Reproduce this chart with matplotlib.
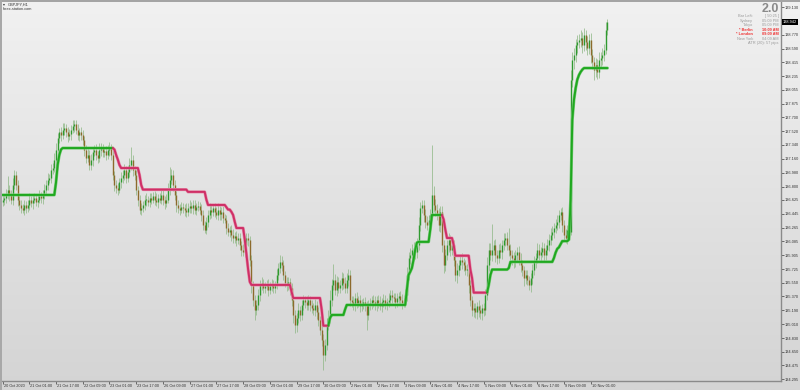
import numpy as np
import matplotlib
matplotlib.use("Agg")
import matplotlib.pyplot as plt
from matplotlib.transforms import blended_transform_factory
from matplotlib.patches import Rectangle

plt.rcParams["font.family"] = ["Liberation Sans", "DejaVu Sans"]

# ---------------- data ----------------
symbol = "GBPJPY,H1"
source = "forex-station.com"
first_open = 136.60

closes = [
    136.63, 136.65, 136.69, 136.76, 136.69, 136.63, 136.82, 136.95, 136.82, 136.63,
    136.56, 136.52, 136.50, 136.56, 136.52, 136.56, 136.63, 136.59, 136.63, 136.65,
    136.60, 136.63, 136.68, 136.65, 136.69, 136.76, 136.82, 136.89, 136.91, 137.02,
    137.04, 137.15, 137.28, 137.43, 137.51, 137.47, 137.54, 137.56, 137.51, 137.46,
    137.48, 137.54, 137.59, 137.61, 137.54, 137.47, 137.51, 137.47, 137.41, 137.28,
    137.17, 137.21, 137.08, 137.15, 137.25, 137.28, 137.21, 137.17, 137.28, 137.30,
    137.25, 137.26, 137.21, 137.28, 137.30, 137.21, 136.95, 136.82, 136.78, 136.76,
    136.86, 136.91, 136.95, 137.02, 136.91, 136.99, 137.08, 137.15, 137.02, 136.95,
    136.76, 136.63, 136.50, 136.52, 136.56, 136.63, 136.63, 136.60, 136.65, 136.63,
    136.68, 136.63, 136.60, 136.65, 136.63, 136.69, 136.63,
    136.59, 136.63, 136.76, 136.89, 136.95, 136.82, 136.69, 136.56,
    136.52, 136.50, 136.53, 136.52, 136.50, 136.47, 136.52, 136.55, 136.52,
    136.56, 136.50, 136.53, 136.55, 136.50, 136.43, 136.30, 136.24, 136.34, 136.43,
    136.50, 136.47, 136.52, 136.47, 136.43, 136.50, 136.44, 136.47, 136.39, 136.37,
    136.26, 136.21, 136.24, 136.17, 136.13, 136.16, 136.11, 136.13, 136.04,
    135.98, 135.95, 136.04, 136.13, 136.11, 135.85, 135.52, 135.33, 135.20,
    135.26, 135.39, 135.52, 135.55, 135.48, 135.50, 135.52, 135.46, 135.51, 135.53,
    135.48, 135.52, 135.65, 135.74, 135.82, 135.78, 135.65, 135.55, 135.52,
    135.56, 135.48, 135.33, 135.13, 135.00, 135.09, 135.20, 135.13,
    135.26, 135.33, 135.30, 135.26, 135.33, 135.26, 135.22, 135.20, 135.26, 135.17,
    135.07, 134.94, 134.81, 134.61, 134.74, 135.00, 135.09,
    135.33, 135.52, 135.59, 135.46, 135.56, 135.48, 135.52, 135.61, 135.55, 135.48,
    135.59, 135.65, 135.33, 135.30, 135.26, 135.35, 135.29, 135.33, 135.25, 135.27,
    135.30, 135.26, 135.13, 135.26, 135.29, 135.33, 135.30, 135.26, 135.33, 135.29,
    135.25, 135.30, 135.33, 135.27, 135.30, 135.33, 135.39, 135.36, 135.35, 135.30,
    135.35, 135.38, 135.33, 135.29, 135.30, 135.39, 135.65, 135.87, 135.91,
    135.98, 136.00, 135.95, 136.04, 136.30, 136.52, 136.56, 136.43, 136.34, 136.30,
    136.37, 136.43, 136.69, 136.56, 136.50, 136.43, 136.30, 136.47, 136.04, 135.78,
    135.91, 136.04, 136.11, 135.98, 136.04, 135.85, 135.65, 135.72, 135.78,
    135.85, 135.82, 135.78, 135.72, 135.72, 135.52, 135.33,
    135.20, 135.22, 135.17, 135.25, 135.20, 135.16, 135.22, 135.20, 135.39,
    135.78, 135.98, 135.91, 135.98, 136.04, 135.91, 135.87, 135.98, 135.95, 136.04,
    136.11, 136.13, 136.04, 135.98, 135.91, 135.87, 135.82, 135.91, 135.95,
    135.85, 135.78, 135.72, 135.61, 135.65, 135.59, 135.52, 135.61, 135.72,
    135.82, 135.87, 135.98, 135.91, 135.95, 136.00, 135.91, 135.98,
    136.04, 136.11, 136.17, 136.21, 136.26, 136.30, 136.34, 136.43, 136.47,
    136.30, 136.17, 136.13, 136.24, 136.21, 138.19, 138.45, 138.51, 138.64,
    138.68, 138.71, 138.73, 138.64, 138.77, 138.68, 138.60, 138.71,
    138.51, 138.42, 138.32, 138.38, 138.29, 138.45, 138.47, 138.51, 138.58,
    138.84, 138.942,
]

up_wick_pips = [
    6, 5, 8, 18, 6, 7, 9, 7, 5, 6, 4, 6, 5, 7, 5, 6, 8, 5, 6, 7,
    5, 6, 8, 5, 6, 7, 6, 8, 5, 7, 6, 8, 9, 7, 5, 6, 8, 7, 5, 6,
    7, 6, 8, 5, 6, 7, 5, 6, 7, 5, 6, 8, 6, 7, 5, 6, 7, 5, 8, 6,
    5, 6, 7, 6, 8, 5, 6, 5, 7, 6, 5, 8, 6, 7, 5, 8, 9, 17, 6, 5, 6,
    5, 6, 7, 5, 6, 8, 5, 6, 7, 5, 6, 8, 5, 6, 7, 6, 5, 7, 8, 17,
    8, 6, 7, 5, 6, 5, 7, 6, 5, 8, 6, 7, 5, 6, 7, 5, 6, 5, 7, 6,
    5, 6, 7, 8, 6, 5, 7, 6, 8, 5, 6, 7, 5, 6, 7, 5, 6, 8, 5, 6,
    7, 6, 5, 7, 8, 6, 7, 5, 6, 5, 6, 7, 8, 6, 7, 5, 6, 6, 8, 5, 7,
    6, 5, 8, 7, 9, 8, 6, 5, 7, 6, 5, 6, 5, 7, 6, 8, 5, 7, 6, 5,
    7, 6, 5, 7, 6, 8, 5, 6, 5, 6, 7, 8, 9, 10, 12, 8, 20, 7, 8, 6,
    7, 8, 6, 7, 9, 8, 6, 5, 7, 6, 8, 5, 6, 7, 5, 6, 5, 7, 6, 5,
    6, 7, 5, 6, 8, 5, 7, 6, 5, 8, 6, 6, 5, 7, 6, 5, 6, 7, 5, 8, 10,
    8, 9, 7, 8, 6, 9, 10, 8, 7, 6, 8, 7, 6, 8, 65, 12, 8, 7, 9, 8,
    7, 6, 8, 7, 9, 6, 8, 7, 6, 8, 7, 6, 8, 5, 6, 7, 5, 6, 5, 7,
    6, 5, 7, 6, 5, 6, 8, 10, 9, 8, 33, 7, 8, 6, 7, 8, 6, 9, 7, 8,
    22, 7, 6, 8, 7, 6, 7, 8, 6, 5, 7, 6, 5, 6, 7, 8, 6, 9, 7, 6,
    8, 7, 6, 8, 7, 9, 8, 7, 8, 9, 7, 5, 6, 7, 8, 6, 7, 12, 10, 9,
    8, 9, 7, 10, 8, 9, 6, 8, 7, 9, 8, 7, 9, 8, 10, 8, 9, 7, 10, 4,
]

dn_wick_pips = [
    5, 7, 6, 5, 8, 6, 7, 5, 6, 8, 7, 6, 5, 7, 6, 5, 7, 6, 8, 5,
    6, 7, 5, 6, 8, 5, 7, 6, 5, 7, 6, 5, 8, 7, 6, 8, 5, 7, 6, 8,
    6, 7, 5, 8, 6, 7, 8, 6, 7, 8, 6, 5, 7, 6, 8, 5, 7, 6, 5, 8,
    6, 7, 7, 5, 8, 6, 7, 8, 6, 7, 5, 8, 6, 7, 6, 5, 7, 6, 8, 6, 7,
    8, 6, 7, 5, 6, 8, 5, 7, 6, 5, 7, 6, 8, 5, 6, 7, 8, 6, 5, 7,
    6, 8, 7, 9, 6, 7, 5, 6, 8, 7, 5, 6, 7, 8, 6, 7, 5, 6, 8, 7,
    5, 6, 7, 5, 8, 6, 7, 5, 6, 8, 7, 6, 5, 8, 6, 7, 8, 6, 7, 8,
    6, 7, 8, 6, 7, 5, 8, 9, 10, 8, 13, 7, 6, 8, 7, 6, 7, 5, 8, 6, 7,
    7, 6, 5, 7, 6, 8, 7, 6, 8, 7, 9, 8, 10, 10, 9, 7, 8, 6, 7, 8,
    6, 7, 8, 6, 7, 8, 9, 8, 7, 9, 20, 8, 7, 6, 7, 8, 6, 7, 8, 6,
    7, 6, 8, 7, 6, 8, 9, 7, 6, 8, 7, 6, 8, 7, 6, 8, 20, 7, 6, 8,
    7, 6, 8, 7, 6, 8, 7, 6, 8, 7, 6, 7, 5, 8, 7, 6, 7, 8, 6, 7, 8,
    7, 8, 6, 7, 9, 8, 7, 8, 6, 9, 8, 7, 9, 8, 7, 9, 8, 7, 8, 9,
    9, 10, 8, 7, 9, 8, 7, 9, 8, 10, 8, 7, 9, 8, 7, 9, 10, 8, 9, 10,
    8, 9, 10, 8, 9, 8, 7, 6, 8, 7, 8, 7, 9, 8, 7, 8, 9, 7, 8, 7,
    8, 7, 9, 8, 7, 8, 7, 9, 8, 10, 8, 7, 6, 9, 8, 7, 8, 6, 7, 8,
    7, 8, 6, 7, 8, 7, 6, 8, 7, 6, 8, 7, 9, 8, 7, 8, 6, 4, 10, 12,
    9, 10, 8, 9, 11, 8, 10, 9, 8, 10, 9, 13, 10, 9, 8, 10, 9, 8, 6, 7,
]

# stepped trend line: level and number of bars it holds
line_levels = [
    136.69, 136.85, 137.08, 137.21, 137.28, 137.30,
    137.28, 137.21, 137.15, 137.08, 137.04, 136.95, 136.82, 136.76, 136.73,
    136.63, 136.56, 136.53, 136.50, 136.47, 136.43, 136.34, 136.26, 136.11,
    135.91, 135.72, 135.56, 135.52, 135.43, 135.35, 135.20, 134.99,
    135.09, 135.13, 135.20, 135.26, 135.46, 135.65, 135.69, 135.74, 135.85,
    135.98, 136.07, 136.08, 136.24, 136.43,
    136.37, 136.24, 136.13, 136.04, 135.90, 135.72, 135.61, 135.42,
    135.52, 135.65, 135.72, 135.74, 135.82, 135.87, 135.94, 135.99, 136.01,
    136.05, 136.09, 136.11, 136.63, 137.67, 137.93, 138.08, 138.19, 138.25,
    138.29, 138.32, 138.34,
]
line_counts = [
    32, 1, 1, 1, 1, 31,
    1, 1, 1, 1, 11, 1, 1, 27, 11,
    1, 11, 1, 2, 1, 1, 1, 5, 1,
    1, 1, 1, 24, 1, 17, 1, 4,
    1, 8, 1, 36, 1, 1, 1, 1, 1,
    1, 1, 7, 1, 7,
    1, 1, 4, 1, 9, 1, 1, 9,
    1, 1, 10, 1, 26, 1, 1, 1, 1,
    1, 4, 1, 1, 1, 1, 1, 1, 1,
    1, 1, 15,
]

x_tick_every = 16
x_tick_labels = [
    "20 Oct 2020", "21 Oct 01:00", "21 Oct 17:00", "22 Oct 09:00", "23 Oct 01:00",
    "23 Oct 17:00", "26 Oct 09:00", "27 Oct 01:00", "27 Oct 17:00", "28 Oct 09:00",
    "29 Oct 01:00", "29 Oct 17:00", "30 Oct 09:00", "2 Nov 01:00", "2 Nov 17:00",
    "3 Nov 09:00", "4 Nov 01:00", "4 Nov 17:00", "5 Nov 09:00", "6 Nov 01:00",
    "6 Nov 17:00", "9 Nov 09:00", "10 Nov 01:00",
]
price_ticks = [
    139.130, 138.770, 138.590, 138.415, 138.235, 138.055, 137.875, 137.700,
    137.520, 137.340, 137.160, 136.980, 136.800, 136.625, 136.445, 136.265,
    136.085, 135.905, 135.725, 135.550, 135.370, 135.190, 135.010, 134.830,
    134.650, 134.475, 134.295,
]

version_text = "2.0"
info_labels = ["Bar Left:", "Sydney", "Tokyo", "* Berlin", "* London", "New York"]
info_values = ["[ 50:25 ]", "05:09 PM", "05:09 PM", "10:09 AM", "09:09 AM", "04:09 AM"]
info_active = [False, False, False, True, True, False]
atr_text = "ATR (20): 57 pips"

# ---------------- figure ----------------
W, H = 800, 390
fig = plt.figure(figsize=(W / 100, H / 100), dpi=100)
SMALL = 2.75

def fx(px):
    return px / W

def fy(py):
    return 1 - py / H

# gradient background over whole figure
bg = fig.add_axes([0, 0, 1, 1], zorder=-5)
grad = np.linspace(0, 1, 256).reshape(-1, 1)
top_c = np.array([0xf1, 0xf1, 0xf1]) / 255
bot_c = np.array([0xd4, 0xd4, 0xd4]) / 255
img = top_c[None, None, :] * (1 - grad[:, :, None]) + bot_c[None, None, :] * grad[:, :, None]
bg.imshow(img, aspect="auto", extent=[0, 1, 0, 1], origin="upper")
bg.set_axis_off()

# main axes (pixel box: x 2..781, y 2..381)
left_px, right_px, top_px, bot_px = 2, 781, 2, 381
ax = fig.add_axes([fx(left_px), fy(bot_px), fx(right_px - left_px), (bot_px - top_px) / H])
ax.set_facecolor("none")

n = min(len(closes), len(up_wick_pips), len(dn_wick_pips))
c = np.array(closes[:n])
o = np.concatenate([[first_open], c[:-1]])
hi = np.maximum(o, c) + np.array(up_wick_pips[:n]) * 0.01
lo = np.minimum(o, c) - np.array(dn_wick_pips[:n]) * 0.01
x = np.arange(n)

bar_px = 1.671
x0 = -0.3
ax.set_xlim(x0, x0 + (right_px - left_px) / bar_px)
ax.set_ylim(134.271, 139.199)

bull = c >= o
ax.vlines(x, lo, hi, color="#8fb886", lw=0.55, alpha=0.95, zorder=2)
body_lo = np.minimum(o, c)
body_hi = np.maximum(o, c)
body_hi = np.where(body_hi - body_lo < 0.01, body_lo + 0.01, body_hi)
ax.vlines(x[bull], body_lo[bull], body_hi[bull], color="#2f9a2f", lw=1.0, zorder=3)
ax.vlines(x[~bull], body_lo[~bull], body_hi[~bull], color="#8c6a2c", lw=1.0, zorder=3)

# stepped trend line coloured by direction
line = np.repeat(line_levels, line_counts)
m = min(n, len(line))
line = line[:m]
d = np.diff(line)
cols = []
cur = "g"
for v in d:
    if v > 0:
        cur = "g"
    elif v < 0:
        cur = "r"
    cols.append(cur)
start = 0
for k in range(1, len(cols) + 1):
    if k == len(cols) or cols[k] != cols[start]:
        xs = x[start:k + 1]
        ys = line[start:k + 1]
        if cols[start] == "g":
            ax.plot(xs, ys, color="#7acb7a", lw=2.2, solid_joinstyle="round", solid_capstyle="round", zorder=5)
            ax.plot(xs, ys, color="#1fa81f", lw=1.4, solid_joinstyle="round", solid_capstyle="round", zorder=6)
        else:
            ax.plot(xs, ys, color="#e58aa8", lw=2.2, solid_joinstyle="round", solid_capstyle="round", zorder=5)
            ax.plot(xs, ys, color="#cf2f66", lw=1.4, solid_joinstyle="round", solid_capstyle="round", zorder=6)
        start = k

# spines
for s in ["top", "left"]:
    ax.spines[s].set_visible(False)
for s in ["right", "bottom"]:
    ax.spines[s].set_color("#8a8a8a")
    ax.spines[s].set_linewidth(1.0)

# y axis on right
ax.yaxis.tick_right()
ax.set_yticks(price_ticks)
ax.set_yticklabels([f"{p:.3f}" for p in price_ticks])
ax.tick_params(axis="y", direction="out", length=2.0, width=0.6, color="#555555",
               labelsize=SMALL, labelcolor="#333333", pad=1.0)

# x axis ticks with left-aligned labels
tick_pos = [i * x_tick_every for i in range(len(x_tick_labels))]
ax.set_xticks(tick_pos)
ax.set_xticklabels([])
ax.tick_params(axis="x", direction="out", length=2.5, width=0.6, color="#555555")
tr = blended_transform_factory(ax.transData, ax.transAxes)
for p, lab in zip(tick_pos, x_tick_labels):
    ax.text(p + 0.6, -0.007, lab, transform=tr, ha="left", va="top",
            fontsize=SMALL, color="#333333", clip_on=False)

# current price tag
ytr = blended_transform_factory(ax.transAxes, ax.transData)
ax.text(1.002, c[-1], f"{c[-1]:.3f}", transform=ytr, ha="left", va="center",
        fontsize=SMALL, color="white",
        bbox=dict(facecolor="black", edgecolor="none", pad=0.7), clip_on=False, zorder=10)

# borders (top bar and left strip)
fig.patches.append(Rectangle((0, fy(2)), 1, 2 / H, transform=fig.transFigure,
                             facecolor="#a4a4a4", edgecolor="none", zorder=20))
fig.patches.append(Rectangle((0, 0), fx(1.6), 1, transform=fig.transFigure,
                             facecolor="#a8a8a8", edgecolor="none", zorder=20))

# title texts
fig.text(fx(3), fy(4.4), "\u25be", fontsize=SMALL, color="#333333", ha="left", va="center",
         family=["DejaVu Sans"])
fig.text(fx(8), fy(4.4), symbol, fontsize=SMALL, color="#333333", ha="left", va="center")
fig.text(fx(2.5), fy(8.8), source, fontsize=SMALL, color="#333333", ha="left", va="center")

# info panel
fig.text(fx(779), fy(11.6), version_text, fontsize=9, fontweight="bold", color="#8a8a8a",
         ha="right", va="baseline")
row_y = [16.2, 20.7, 25.1, 29.6, 34.0, 38.5]
for yy, lab, val, act in zip(row_y, info_labels, info_values, info_active):
    col = "#ee3333" if act else "#9a9a9a"
    fig.text(fx(753), fy(yy), lab, fontsize=SMALL, color=col, ha="right", va="center",
             fontweight="bold" if act else "normal")
    fig.text(fx(779), fy(yy), val, fontsize=SMALL, color=col, ha="right", va="center",
             fontweight="bold" if act else "normal")
fig.text(fx(779), fy(43.0), atr_text, fontsize=SMALL, color="#9a9a9a", ha="right", va="center")

fig.savefig("out.png", dpi=100)
